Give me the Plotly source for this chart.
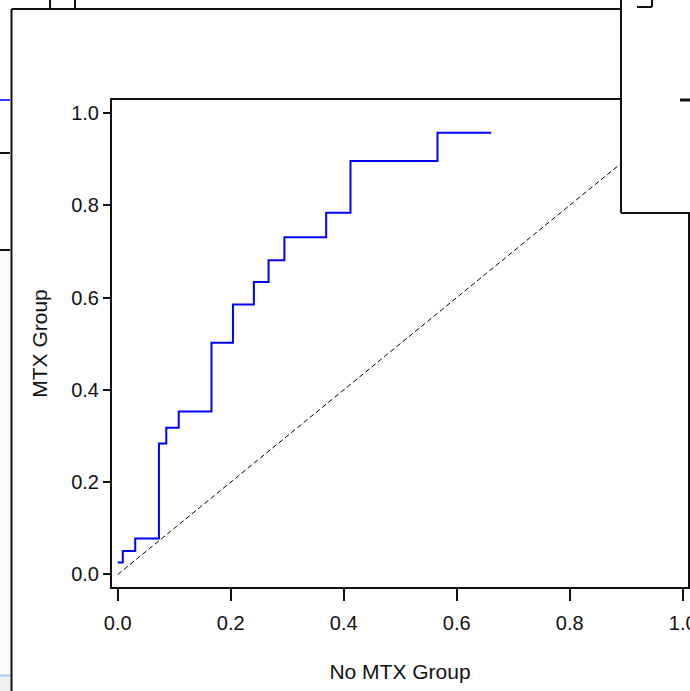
import plotly.graph_objects as go

# ROC step curve (No MTX Group vs MTX Group)
fpr = [0, 0.009, 0.031, 0.073, 0.086, 0.108, 0.166, 0.204, 0.241, 0.267, 0.295, 0.369, 0.412, 0.566, 0.661]
tpr = [0.026, 0.051, 0.078, 0.284, 0.318, 0.353, 0.502, 0.585, 0.634, 0.681, 0.731, 0.784, 0.896, 0.957, 0.957]
ref_x = [0, 1]
ref_y = [0, 1]
tick_vals = [0, 0.2, 0.4, 0.6, 0.8, 1.0]
tick_text = ["0.0", "0.2", "0.4", "0.6", "0.8", "1.0"]

W, H = 690, 691
L, R, T, B = 112, 2, 100, 104
PW, PH = W - L - R, H - T - B

def px(x):
    return (x - L) / PW

def py(y):
    return (H - B - y) / PH

fig = go.Figure()
fig.add_trace(go.Scatter(x=ref_x, y=ref_y, mode="lines",
                         line=dict(color="black", width=1, dash="5px,3px"),
                         hoverinfo="skip", showlegend=False))
fig.add_trace(go.Scatter(x=fpr, y=tpr, mode="lines", line_shape="hv",
                         line=dict(color="#0000ff", width=2), showlegend=False))

tfont = dict(family="Liberation Sans, Arial, sans-serif", size=20, color="#111")
afont = dict(family="Liberation Sans, Arial, sans-serif", size=21, color="#111")

fig.update_xaxes(range=[-0.0101, 1.0094], tickvals=tick_vals, ticktext=tick_text,
                 ticks="outside", ticklen=12, tickwidth=1.5, tickcolor="#111",
                 showline=True, linecolor="#111", linewidth=2, mirror=True,
                 showgrid=False, zeroline=False, tickfont=tfont, automargin=False,
                 ticklabeloverflow="allow", ticklabelstandoff=5,
                 title=dict(text="No MTX Group", font=afont, standoff=31))
fig.update_yaxes(range=[-0.0271, 1.0282], tickvals=tick_vals, ticktext=tick_text,
                 ticks="outside", ticklen=7, tickwidth=1.5, tickcolor="#111",
                 showline=True, linecolor="#111", linewidth=2, mirror=True,
                 showgrid=False, zeroline=False, tickfont=tfont, automargin=False,
                 title=dict(text="MTX Group", font=afont, standoff=18))

shapes = []
def line(x0, y0, x1, y1, color="#111", width=2):
    shapes.append(dict(type="line", xref="paper", yref="paper",
                       x0=px(x0), y0=py(y0), x1=px(x1), y1=py(y1),
                       line=dict(color=color, width=width), layer="above"))

# left strip (background window)
shapes.append(dict(type="rect", xref="paper", yref="paper",
                   x0=px(0), y0=py(250), x1=px(11), y1=py(676),
                   fillcolor="#fbfbfb", line=dict(width=0), layer="below"))
shapes.append(dict(type="rect", xref="paper", yref="paper",
                   x0=px(0), y0=py(676), x1=px(11), y1=py(691),
                   fillcolor="#f0f0f0", line=dict(width=0), layer="below"))
line(0, 675.5, 10, 675.5, color="#a9c6e6", width=2)
line(0, 100, 10, 100, color="#3a3aff", width=2)
line(0, 153, 10, 153)
line(0, 250, 10, 250)
# top-right overlapping window
shapes.append(dict(type="rect", xref="paper", yref="paper",
                   x0=px(621), y0=py(0), x1=px(692), y1=py(213),
                   fillcolor="white", line=dict(width=0), layer="above"))
line(621, 0, 621, 213)
line(621, 213, 692, 213)
line(637, 7, 652, 7)
line(652, 0, 652, 7)
line(680, 100, 690, 100, width=3)
# main window frame
line(11.5, 9, 11.5, 691)
line(11.5, 9, 621, 9)
# window behind at top
line(50, 0, 50, 9)
line(75, 0, 75, 9)

fig.update_layout(width=W, height=H, margin=dict(l=L, r=R, t=T, b=B, autoexpand=False),
                  paper_bgcolor="white", plot_bgcolor="white",
                  shapes=shapes, showlegend=False)

fig.write_html("out.html")
